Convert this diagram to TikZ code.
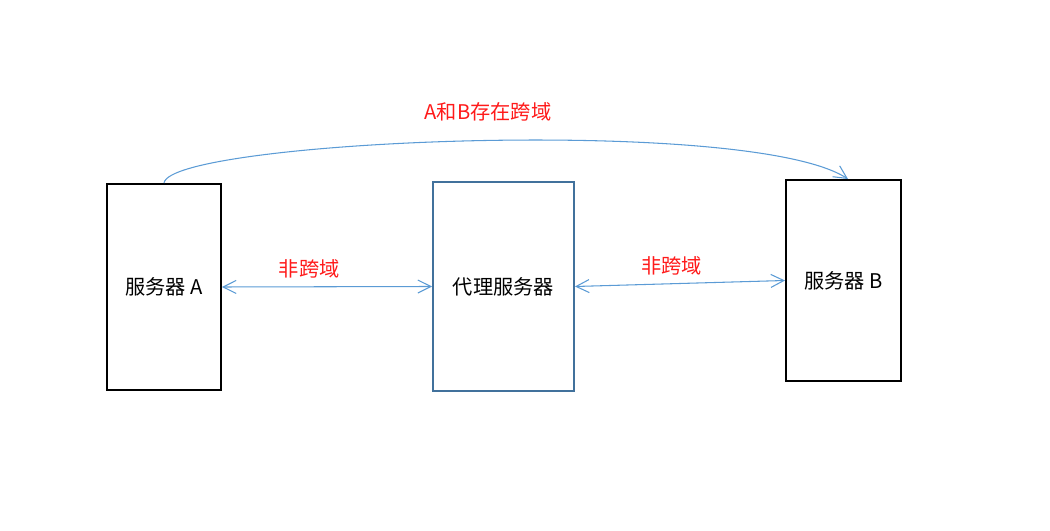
\documentclass[tikz,border=0pt]{standalone}
\usepackage{fontspec}
\setmainfont{Noto Sans CJK SC}
\usetikzlibrary{arrows.meta}

\definecolor{linkblue}{HTML}{5B9BD5}
\definecolor{proxyblue}{HTML}{41719C}
\definecolor{labelred}{HTML}{FF1A1A}

\begin{document}
\begin{tikzpicture}[
        server/.style={draw=black, line width=1.1pt, font=\fontsize{11.5pt}{13pt}\selectfont},
        link/.style={draw=linkblue, line width=0.6pt, {Straight Barb[length=2.6mm,width=2.6mm]}-{Straight Barb[length=2.6mm,width=2.6mm]}},
        note/.style={text=labelred, font=\fontsize{11.5pt}{13pt}\selectfont}
    ]
            \useasboundingbox (0,0) rectangle (21,10.62);

            % Servers
            \node[server, minimum width=2.28cm, minimum height=4.12cm] (srvA) at (3.28,4.88) {服务器 A};
            \node[server, draw=proxyblue, minimum width=2.82cm, minimum height=4.18cm] (proxy) at (10.07,4.89) {代理服务器};
            \node[server, minimum width=2.30cm, minimum height=4.02cm] (srvB) at (16.87,5.01) {服务器 B};

            % Links through the proxy
            \draw[link] (srvA.east) -- node[note, above=1pt, pos=0.415] (noteA) {非跨域} (proxy.west);
            \draw[link] (proxy.east) -- node[note, above=1pt, pos=0.46] (noteB) {非跨域} (srvB.west);

            % Direct link from A to B
            \coordinate (topB) at ([xshift=0.09cm]srvB.north);
            \draw[draw=linkblue, line width=0.6pt, -{Straight Barb[length=2.6mm,width=2.6mm]}]
                (srvA.north) .. controls +(0.12,0.86) and +(-1.96,1.28) .. (topB);
            \node[note] (noteAB) at (9.76,8.38) {A和B存在跨域};
        \end{tikzpicture}
\end{document}
